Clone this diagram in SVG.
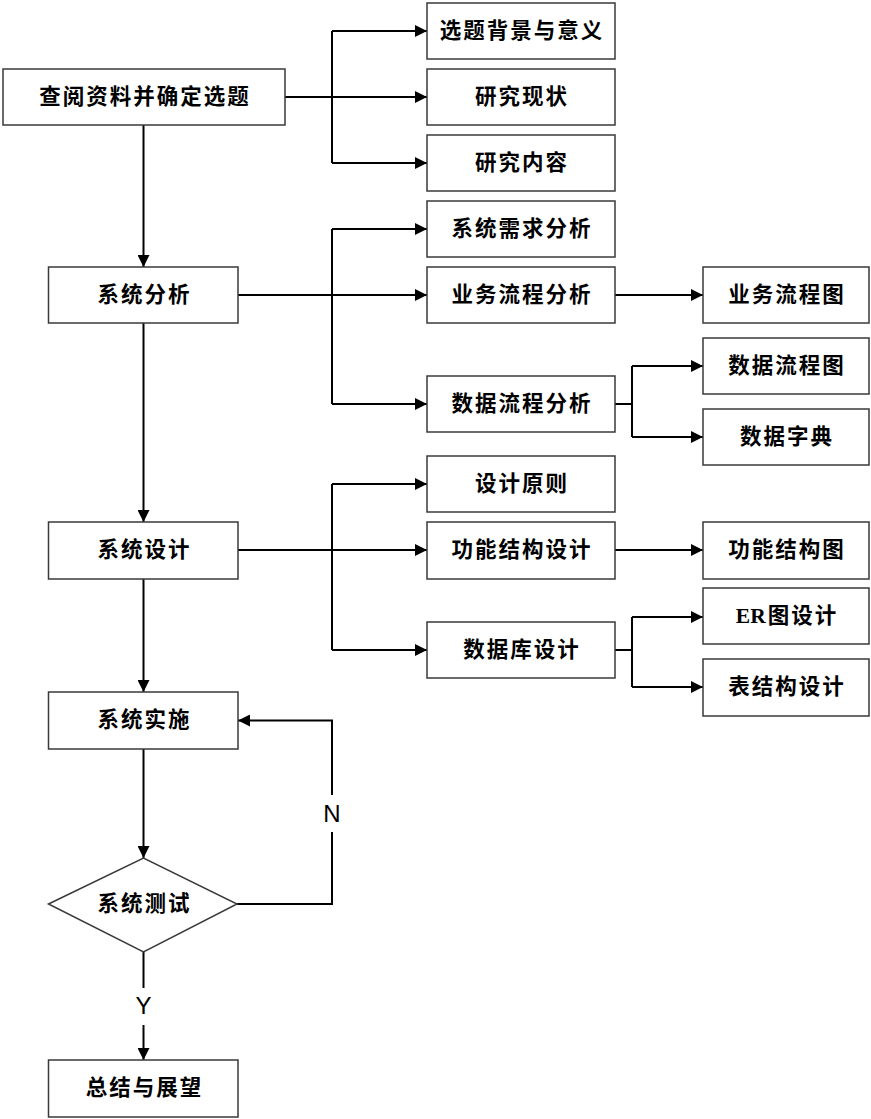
<svg xmlns="http://www.w3.org/2000/svg" width="871" height="1119" viewBox="0 0 871 1119">
<style>
.box{fill:#fff;stroke:#3a3a3a;stroke-width:1.5}
.lbl{font-family:"Liberation Serif","Noto Sans CJK SC",serif;font-weight:bold;font-size:21.5px;letter-spacing:2px;text-anchor:middle;dominant-baseline:central;fill:#000}
.tight{letter-spacing:0}
.yn{font-family:"Liberation Sans",Arial,sans-serif;font-size:24px;text-anchor:middle;fill:#000}
.c{fill:none;stroke:#000;stroke-width:2}
.ca{fill:none;stroke:#000;stroke-width:2;marker-end:url(#arr)}
</style>
<defs>
<marker id="arr" markerUnits="userSpaceOnUse" markerWidth="12" markerHeight="12" viewBox="0 0 12 12" refX="12" refY="6" orient="auto">
<path d="M0,0 L12,6 L0,12 Z" fill="#000"/>
</marker>
</defs>
<rect width="871" height="1119" fill="#fff"/>
<g id="connectors">
<path class="c" d="M285,97 H332 M332,31 V163"/>
<path class="ca" d="M332,31 H427"/>
<path class="ca" d="M332,97 H427"/>
<path class="ca" d="M332,163 H427"/>
<path class="ca" d="M143.5,125 V267"/>
<path class="c" d="M238,295 H332 M332,229 V404"/>
<path class="ca" d="M332,229 H427"/>
<path class="ca" d="M332,295 H427"/>
<path class="ca" d="M332,404 H427"/>
<path class="ca" d="M615,295 H703"/>
<path class="c" d="M615,404 H632 M632,366 V437"/>
<path class="ca" d="M632,366 H703"/>
<path class="ca" d="M632,437 H703"/>
<path class="ca" d="M143.5,323 V522"/>
<path class="c" d="M238,550 H332 M332,484 V650"/>
<path class="ca" d="M332,484 H427"/>
<path class="ca" d="M332,550 H427"/>
<path class="ca" d="M332,650 H427"/>
<path class="ca" d="M615,550 H703"/>
<path class="c" d="M615,650 H632 M632,617 V687"/>
<path class="ca" d="M632,617 H703"/>
<path class="ca" d="M632,687 H703"/>
<path class="ca" d="M143.5,579 V692"/>
<path class="ca" d="M143.5,749 V858"/>
<path class="c" d="M237,904 H332 V832"/>
<path class="ca" d="M332,795 V720.5 H238"/>
<path class="c" d="M143.5,952 V988"/>
<path class="ca" d="M143.5,1025 V1060"/>
<text class="yn" x="332" y="822">N</text>
<text class="yn" x="143.5" y="1014">Y</text>
</g>
<g id="n-chayue"><rect class="box" x="3" y="69" width="282" height="56"/><text class="lbl" x="145" y="97">查阅资料并确定选题</text></g>
<g id="n-beijing"><rect class="box" x="427" y="3" width="188" height="56"/><text class="lbl" x="522" y="31">选题背景与意义</text></g>
<g id="n-xianzhuang"><rect class="box" x="427" y="69" width="188" height="56"/><text class="lbl" x="522" y="97">研究现状</text></g>
<g id="n-neirong"><rect class="box" x="427" y="135" width="188" height="56"/><text class="lbl" x="522" y="163">研究内容</text></g>
<g id="n-xqfx"><rect class="box" x="427" y="201" width="188" height="56"/><text class="lbl" x="522" y="229">系统需求分析</text></g>
<g id="n-ywlcfx"><rect class="box" x="427" y="267" width="188" height="56"/><text class="lbl" x="522" y="295">业务流程分析</text></g>
<g id="n-sjlcfx"><rect class="box" x="427" y="376" width="188" height="56"/><text class="lbl" x="522" y="404">数据流程分析</text></g>
<g id="n-sjyz"><rect class="box" x="427" y="456" width="188" height="56"/><text class="lbl" x="522" y="484">设计原则</text></g>
<g id="n-gnjgsj"><rect class="box" x="427" y="522" width="188" height="57"/><text class="lbl" x="522" y="550">功能结构设计</text></g>
<g id="n-sjksj"><rect class="box" x="427" y="622" width="188" height="56"/><text class="lbl" x="522" y="650">数据库设计</text></g>
<g id="n-ywlct"><rect class="box" x="703" y="267" width="166" height="56"/><text class="lbl" x="787" y="295">业务流程图</text></g>
<g id="n-sjlct"><rect class="box" x="703" y="338" width="166" height="56"/><text class="lbl" x="787" y="366">数据流程图</text></g>
<g id="n-sjzd"><rect class="box" x="703" y="409" width="166" height="56"/><text class="lbl" x="787" y="437">数据字典</text></g>
<g id="n-gnjgt"><rect class="box" x="703" y="522" width="166" height="57"/><text class="lbl" x="787" y="550">功能结构图</text></g>
<g id="n-er"><rect class="box" x="703" y="588" width="166" height="56"/><text class="lbl" x="787" y="616"><tspan class="tight">E</tspan>R图设计</text></g>
<g id="n-bjg"><rect class="box" x="703" y="659" width="166" height="57"/><text class="lbl" x="787" y="687">表结构设计</text></g>
<g id="n-xtfx"><rect class="box" x="48.5" y="267" width="189.5" height="56"/><text class="lbl" x="144.5" y="295">系统分析</text></g>
<g id="n-xtsj"><rect class="box" x="48.5" y="522" width="189.5" height="57"/><text class="lbl" x="144.5" y="550">系统设计</text></g>
<g id="n-xtss"><rect class="box" x="48.5" y="692" width="189.5" height="57"/><text class="lbl" x="144.5" y="720">系统实施</text></g>
<g id="n-xtcs"><polygon class="box" points="48.5,904 143.5,858 237,904 143.5,952"/><text class="lbl" x="144.5" y="904">系统测试</text></g>
<g id="n-zj"><rect class="box" x="48.5" y="1060" width="189.5" height="57"/><text class="lbl" x="144.5" y="1088">总结与展望</text></g>
</svg>
